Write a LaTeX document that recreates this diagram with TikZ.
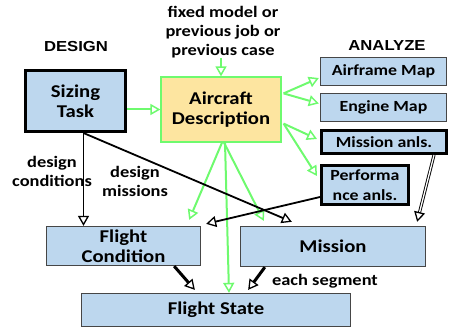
\documentclass[tikz,border=0pt]{standalone}
\usepackage{fontspec}
\usetikzlibrary{arrows.meta,calc}
\newfontfamily\boxfont[FakeStretch=1.15]{Carlito}
\newfontfamily\headfont[FakeStretch=1.15]{Liberation Sans}
\definecolor{boxblue}{RGB}{189,215,238}
\definecolor{descfill}{RGB}{253,229,160}
\definecolor{linkgreen}{RGB}{110,250,110}
\definecolor{boxedge}{RGB}{70,70,70}
\begin{document}
\begin{tikzpicture}[x=1pt,y=-1pt,
  box/.style={draw=boxedge, line width=1.3pt, fill=boxblue, inner sep=0pt,
    align=center, font=\boxfont\bfseries\fontsize{18}{20}\selectfont},
  mapbox/.style={box, font=\boxfont\bfseries\fontsize{15.5}{20}\selectfont},
  heavybox/.style={mapbox, draw=black, line width=3pt},
  lbl/.style={inner sep=0pt, align=center, font=\boxfont\bfseries\fontsize{16}{19}\selectfont},
  hdr/.style={inner sep=0pt, font=\headfont\bfseries\fontsize{14.5}{17}\selectfont},
  grn/.style={draw=linkgreen, line width=2pt,
    -{Triangle[length=10pt, width=11pt, fill=white, line width=1.5pt]}},
  blk/.style={draw=black, line width=1.8pt,
    -{Triangle[length=10pt, width=11pt, fill=white, line width=1.3pt]}},
  heavyblk/.style={blk, line width=3pt},
  dblblk/.style={draw=black, line width=0.9pt, double=white, double distance=1.3pt,
    -{Triangle[length=10pt, width=11pt, fill=white, line width=1.3pt]}}]
\useasboundingbox (0,0) rectangle (449,328);

% headings and free labels
\node[hdr] (design) at (76,47) {DESIGN};
\node[hdr] (analyze) at (387,46) {ANALYZE};
\node[lbl] (fx) at (223,32) {fixed model or\\previous job or\\previous case};
\node[lbl] (dc) at (52,171) {design\\conditions};
\node[lbl] (dm) at (135,181) {design\\missions};
\node[lbl] (es) at (325,281) {each segment};

% boxes
\node[box, draw=black, line width=3pt, minimum width=100pt, minimum height=61pt] (st) at (75.5,101) {Sizing\\Task};
\node[box, draw=linkgreen, line width=1.2pt, fill=descfill, minimum width=120pt, minimum height=65pt] (ad) at (221,109.5) {Aircraft\\Description};
\node[mapbox, minimum width=126pt, minimum height=28pt] (af) at (383.5,71.5) {Airframe Map};
\node[mapbox, minimum width=126pt, minimum height=28pt] (em) at (383.5,107.5) {Engine Map};
\node[heavybox, minimum width=125pt, minimum height=23pt] (ma) at (384,142) {Mission anls.};
\node[heavybox, minimum width=87pt, minimum height=39pt] (pa) at (365,185) {Performa\\nce anls.};
\node[box, minimum width=154pt, minimum height=39pt] (fc) at (123.5,246) {Flight\\Condition};
\node[box, minimum width=185pt, minimum height=40pt] (mi) at (333,246.5) {Mission};
\node[box, minimum width=269pt, minimum height=33pt] (fs) at (216,310) {Flight State};

% green links from the aircraft description
\draw[grn] (fx.south -| ad.north) -- (ad.north);
\draw[grn] (ad.west -| st.east) -- (ad.west);
\coordinate (adr1) at ($(ad.north east)+(2,17)$);
\coordinate (adr2) at ($(ad.south east)+(2,-19)$);
\draw[grn] (adr1) -- ($(af.west)+(-1,6.5)$);
\draw[grn] (adr1) -- ($(em.west)+(-1,-4)$);
\draw[grn] (adr2) -- ($(ma.west)+(-3,-3)$);
\draw[grn] (adr2) -- ($(pa.north west)+(-3,12)$);
\draw[grn] ($(ad.south)+(1,0)$) -- ($(fc.north east)+(-12,-6)$);
\draw[grn] ($(ad.south)+(3,0)$) -- ($(mi.north west)+(24,-5)$);
\draw[grn] ($(ad.south)+(4,0)$) -- ($(fs.north)+(13,0)$);

% black links
\coordinate (stb) at ($(st.south west)+(59.5,0)$);
\draw[blk] (stb) -- (stb |- fc.north);
\draw[blk] (stb) -- ($(mi.north west)+(52,-4)$);
\draw[blk] ($(pa.west)+(0,12)$) -- ($(fc.north east)+(5,-2)$);
\draw[dblblk] ($(ma.south east)+(-14,0)$) -- ($(mi.north east)+(-9,-4)$);
\draw[heavyblk] ($(fc.south east)+(-27,0)$) -- ($(fs.north west)+(114,-3)$);
\draw[heavyblk] ($(mi.south west)+(25,0)$) -- ($(fs.north east)+(-103,-3)$);
\end{tikzpicture}
\end{document}
